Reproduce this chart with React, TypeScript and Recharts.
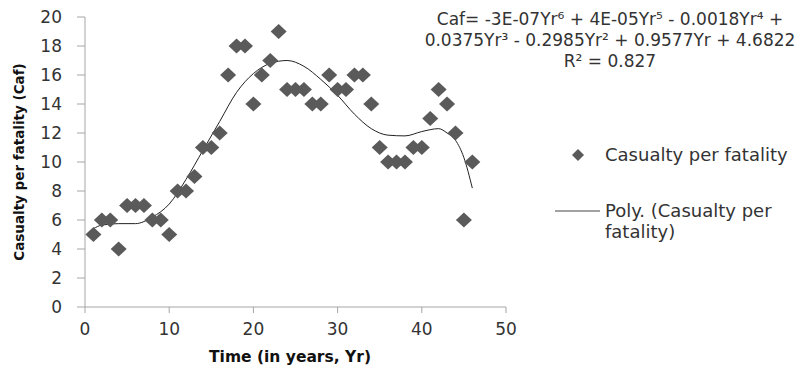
import React from 'react';
import { ComposedChart, Scatter, Line, XAxis, YAxis, Legend, Label } from 'recharts';

const years = [1, 2, 3, 4, 5, 6, 7, 8, 9, 10, 11, 12, 13, 14, 15, 16, 17, 18, 19, 20, 21, 22, 23, 24, 25, 26, 27, 28, 29, 30, 31, 32, 33, 34, 35, 36, 37, 38, 39, 40, 41, 42, 43, 44, 45, 46];
const caf = [5, 6, 6, 4, 7, 7, 7, 6, 6, 5, 8, 8, 9, 11, 11, 12, 16, 18, 18, 14, 16, 17, 19, 15, 15, 15, 14, 14, 16, 15, 15, 16, 16, 14, 11, 10, 10, 10, 11, 11, 13, 15, 14, 12, 6, 10];

const trendYears = [1, 2, 4, 6, 8, 10, 12, 14, 16, 18, 20, 22, 24, 26, 28, 30, 32, 34, 36, 38, 40, 42, 43, 44, 45, 46];
const trendCaf = [5.4, 5.65, 5.75, 5.75, 6.2, 7.1, 8.8, 10.8, 12.8, 14.8, 16.1, 16.8, 17.0, 16.6, 15.7, 14.6, 13.3, 12.3, 11.85, 11.8, 12.1, 12.3, 12.0, 11.5, 10.3, 8.2];

const xTicks = [0, 10, 20, 30, 40, 50];
const yTicks = [0, 2, 4, 6, 8, 10, 12, 14, 16, 18, 20];

const seriesName = 'Casualty per fatality';
const trendName = 'Poly. (Casualty per fatality)';
const trendNameLines = ['Poly. (Casualty per', 'fatality)'];
const equationLines = [
  'Caf= -3E-07Yr\u2076 + 4E-05Yr\u2075 - 0.0018Yr\u2074 +',
  '0.0375Yr\u00b3 - 0.2985Yr\u00b2 + 0.9577Yr + 4.6822',
  'R\u00b2 = 0.827',
];
const xTitle = 'Time (in years, Yr)';
const yTitle = 'Casualty per fatality (Caf)';

const points = years.map((x, i) => ({ x, y: caf[i] }));
const trend = trendYears.map((x, i) => ({ x, y: trendCaf[i] }));

const FONT = '"DejaVu Sans", sans-serif';
const MARK = '#5a5a5a';
const AXIS = '#a6a6a6';
const TEXT = '#333333';

const Diamond = (props: any) => {
  const { cx, cy } = props;
  if (cx == null || cy == null) return null;
  const w = 8, h = 7.5;
  return (
    <polygon
      points={`${cx},${cy - h} ${cx + w},${cy} ${cx},${cy + h} ${cx - w},${cy}`}
      fill={MARK}
    />
  );
};

const LegendContent = () => (
  <div style={{ position: 'relative', width: 270, height: 110, fontFamily: FONT, fontSize: 18, color: TEXT }}>
    <svg width={60} height={110} style={{ position: 'absolute', left: 0, top: 0 }}>
      <polygon points="38,9 44,15 38,21 32,15" fill={MARK} />
      <line x1={15} y1={71} x2={60} y2={71} stroke="#444" strokeWidth={1} />
    </svg>
    <div style={{ position: 'absolute', left: 65, top: 4, lineHeight: '22px', whiteSpace: 'nowrap' }}>{seriesName}</div>
    <div style={{ position: 'absolute', left: 65, top: 60, lineHeight: '21px', whiteSpace: 'nowrap' }}>
      {trendNameLines.map((t) => (
        <div key={t}>{t}</div>
      ))}
    </div>
  </div>
);

const YTitle = (props: any) => {
  const cx = 19;
  const cy = 162;
  return (
    <text
      x={cx}
      y={cy}
      transform={`rotate(-90 ${cx} ${cy})`}
      textAnchor="middle"
      dominantBaseline="central"
      fontFamily={FONT}
      fontSize={13.5}
      fontWeight="bold"
      fill="#111"
    >
      {yTitle}
    </text>
  );
};

const XTitle = (props: any) => (
  <text
    x={290}
    y={357}
    textAnchor="middle"
    dominantBaseline="central"
    fontFamily={FONT}
    fontSize={15.5}
    fontWeight="bold"
    fill="#111"
  >
    {xTitle}
  </text>
);

export default function App() {
  return (
    <div style={{ position: 'absolute', left: 0, top: 0, width: 811, height: 372, background: '#fff' }}>
      <ComposedChart width={811} height={372} margin={{ top: 17, right: 305, bottom: 0, left: 0 }}>
        <XAxis
          type="number"
          dataKey="x"
          domain={[0, 50]}
          ticks={xTicks}
          height={65}
          tickSize={6}
          tickMargin={10}
          axisLine={{ stroke: AXIS }}
          tickLine={{ stroke: AXIS }}
          tick={{ fill: TEXT, fontSize: 17, fontFamily: FONT }}
          allowDataOverflow
        >
          <Label content={<XTitle />} />
        </XAxis>
        <YAxis
          type="number"
          dataKey="y"
          domain={[0, 20]}
          ticks={yTicks}
          interval={0}
          width={85}
          tickSize={8}
          tickMargin={15}
          axisLine={{ stroke: AXIS }}
          tickLine={{ stroke: AXIS }}
          tick={{ fill: TEXT, fontSize: 17, fontFamily: FONT }}
          allowDataOverflow
        >
          <Label content={<YTitle />} />
        </YAxis>
        <Scatter name={seriesName} data={points} dataKey="y" shape={<Diamond />} isAnimationActive={false} />
        <Line
          name={trendName}
          data={trend}
          dataKey="y"
          type="monotone"
          stroke="#222"
          strokeWidth={1}
          dot={false}
          activeDot={false}
          isAnimationActive={false}
        />
        <Legend
          layout="horizontal"
          verticalAlign="middle"
          align="center"
          content={<LegendContent />}
          wrapperStyle={{ position: 'absolute', left: 540, top: 140, width: 270, height: 110 }}
        />
      </ComposedChart>
      <div
        style={{
          position: 'absolute',
          left: 400,
          top: 9,
          width: 420,
          textAlign: 'center',
          fontFamily: FONT,
          fontSize: 17,
          lineHeight: '21px',
          color: TEXT,
          whiteSpace: 'nowrap',
        }}
      >
        {equationLines.map((t) => (
          <div key={t}>{t}</div>
        ))}
      </div>
    </div>
  );
}
